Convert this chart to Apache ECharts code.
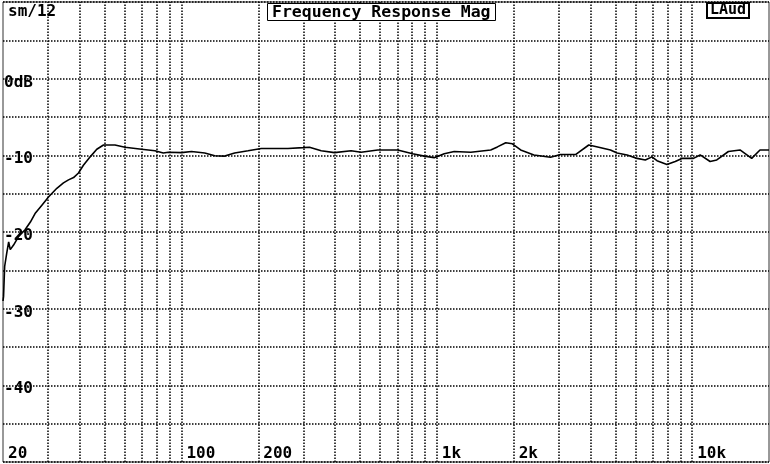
<!DOCTYPE html>
<html><head><meta charset="utf-8">
<script src="https://cdn.jsdelivr.net/npm/echarts@6/dist/echarts.min.js"></script>
<style>html,body{margin:0;padding:0;background:#fff}#c{width:770px;height:464px}</style>
</head><body><div id="c"></div>
<script>
const freqHz = [20.0, 20.1, 20.3, 20.7, 21.05, 21.35, 22.0, 23.0, 24.4, 25.6, 26.7, 28.4, 30.2, 32.5, 34.5, 36.1, 37.8, 39.5, 41.3, 43.9, 46.6, 49.5, 54.9, 60.1, 69.8, 78.7, 84.9, 88.8, 100, 109.5, 123.4, 135, 147.7, 161.6, 182.3, 205.5, 261.3, 299, 317.3, 352.6, 397.3, 461.7, 505.1, 587, 702.7, 804.2, 892.6, 976.9, 1069, 1170, 1359, 1626, 1727, 1862, 1977, 2130, 2401, 2789, 3053, 3493, 3937, 4308, 4787, 5083, 5563, 6086, 6555, 6963, 7283, 7968, 8585, 9121, 10120, 10750, 11760, 12490, 13870, 15400, 17110, 18440, 20000];
const magDb = [-29.0, -28.4, -24.5, -22.7, -21.3, -22.3, -21.7, -20.6, -19.7, -18.7, -17.6, -16.5, -15.4, -14.3, -13.6, -13.2, -12.9, -12.3, -11.3, -10.2, -9.2, -8.65, -8.65, -8.95, -9.2, -9.4, -9.7, -9.6, -9.65, -9.5, -9.7, -10.05, -10.1, -9.7, -9.4, -9.1, -9.1, -9.0, -8.95, -9.4, -9.65, -9.4, -9.6, -9.3, -9.3, -9.8, -10.1, -10.3, -9.8, -9.5, -9.6, -9.3, -8.9, -8.35, -8.5, -9.3, -9.95, -10.25, -9.9, -9.9, -8.65, -8.95, -9.3, -9.7, -9.95, -10.4, -10.6, -10.2, -10.7, -11.2, -10.8, -10.4, -10.4, -9.95, -10.8, -10.6, -9.5, -9.3, -10.4, -9.3, -9.3];
const xLabelValues = [20, 100, 200, 1000, 2000, 10000];
const yLabelValues = [0, -10, -20, -30, -40];
const vGridFreqs = [30, 40, 50, 60, 70, 80, 90, 100, 200, 300, 400, 500, 600, 700, 800, 900, 1000, 2000, 3000, 4000, 5000, 6000, 7000, 8000, 9000, 10000];

const FONT = "'DejaVu Sans Mono', monospace";
const dotted = { color: '#000', width: 1.5, type: [1.5, 1.5] };
const chart = echarts.init(document.getElementById('c'));
chart.setOption({
  animation: false,
  backgroundColor: '#fff',
  title: [
    { text: 'Frequency Response Mag', left: 267, top: 5, padding: [1, 5, 0, 5], borderColor: '#000', borderWidth: 1, backgroundColor: '#fff',
      textStyle: { fontFamily: FONT, fontWeight: 'bold', fontSize: 16.5, lineHeight: 13, color: '#000' } },
    { text: 'sm/12', left: 8, top: 7, padding: 0,
      textStyle: { fontFamily: FONT, fontWeight: 'bold', fontSize: 16, lineHeight: 9, color: '#000' } },
    { text: 'LAud', left: 707, top: 5, padding: [0, 3, 0, 3], borderColor: '#000', borderWidth: 2, backgroundColor: '#fff',
      textStyle: { fontFamily: FONT, fontWeight: 'bold', fontSize: 15, lineHeight: 11, color: '#000' } }
  ],
  grid: { left: 1, right: 1, top: 2, bottom: 2, show: true, borderColor: '#333', borderWidth: 1, backgroundColor: '#fff' },
  xAxis: {
    type: 'log', logBase: 10, min: 20, max: 20000,
    axisLine: { show: false }, axisTick: { show: false }, splitLine: { show: false },
    axisLabel: {
      inside: true, customValues: xLabelValues, align: 'left', verticalAlign: 'bottom', margin: 3,
      padding: [0, 0, 0, 5], fontFamily: FONT, fontWeight: 'bold', fontSize: 16, lineHeight: 10, color: '#000',
      formatter: v => { const r = Math.round(v); return r >= 1000 ? (r / 1000) + 'k' : String(r); }
    }
  },
  yAxis: {
    type: 'value', min: -50, max: 10, interval: 5,
    axisLine: { show: false }, axisTick: { show: false },
    splitLine: { show: true, lineStyle: dotted },
    axisLabel: {
      inside: true, customValues: yLabelValues, align: 'left', verticalAlign: 'top', margin: 1,
      fontFamily: FONT, fontWeight: 'bold', fontSize: 16, lineHeight: 8, color: '#000',
      formatter: v => v === 0 ? '0dB' : String(v)
    }
  },
  series: [{
    type: 'line', showSymbol: false, smooth: false, z: 5,
    data: freqHz.map((f, i) => [f, magDb[i]]),
    lineStyle: { color: '#000', width: 1.6 },
    markLine: {
      silent: true, symbol: 'none', label: { show: false }, lineStyle: dotted, animation: false,
      data: vGridFreqs.map(f => ({ xAxis: f }))
    }
  }]
});
</script></body></html>
